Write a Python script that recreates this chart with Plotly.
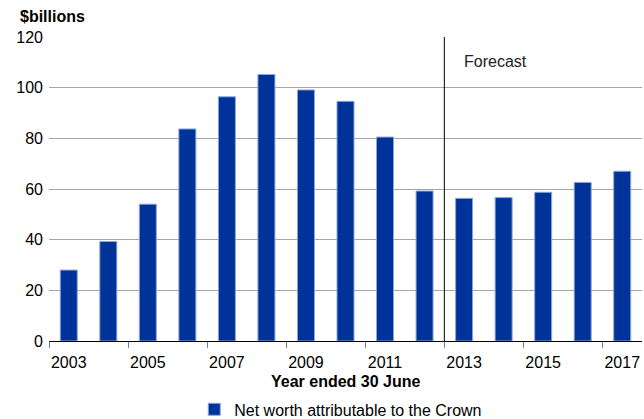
import plotly.graph_objects as go

# Net worth attributable to the Crown, $billions, year ended 30 June
years = [2003, 2004, 2005, 2006, 2007, 2008, 2009, 2010,
         2011, 2012, 2013, 2014, 2015, 2016, 2017]
net_worth = [28.0, 39.3, 54.0, 83.7, 96.4, 105.2, 99.1, 94.6,
             80.5, 59.2, 56.3, 56.6, 58.7, 62.6, 67.0]
tick_years = years[::2]
tick_labels = [str(y) for y in tick_years]
forecast_start = 2013
y_ticks = [0, 20, 40, 60, 80, 100, 120]

FONT = "Liberation Sans, Arial, sans-serif"
BAR = "#003399"

fig = go.Figure()
fig.add_trace(go.Bar(
    x=years, y=net_worth, width=0.43,
    name="Net worth attributable to the Crown",
    marker=dict(color=BAR, line=dict(color="#8da6d8", width=1)),
))

boundaries = [y - 0.5 for y in tick_years]

fig.update_layout(
    width=644, height=419,
    margin=dict(l=49, r=2, t=37, b=78, autoexpand=False),
    paper_bgcolor="white", plot_bgcolor="white",
    font=dict(family=FONT, size=16, color="#000000"),
    showlegend=True,
    legend=dict(orientation="h", x=0.492, xanchor="center",
                y=-0.225, yanchor="middle",
                font=dict(size=16), itemwidth=30,
                bgcolor="rgba(0,0,0,0)"),
    bargap=0.5,
    xaxis=dict(
        range=[years[0] - 0.5, years[-1] + 0.5],
        tickmode="array", tickvals=tick_years, ticktext=tick_labels,
        ticks="", showgrid=False, zeroline=False,
        showline=True, linecolor="#000000", linewidth=1,
        tickfont=dict(size=16), ticklabelstandoff=7,
        minor=dict(tickmode="array", tickvals=boundaries, ticks="outside",
                   ticklen=6, tickcolor="#808080", showgrid=False),
    ),
    yaxis=dict(
        range=[0, 120], tickmode="array", tickvals=y_ticks,
        showgrid=True, gridcolor="#a6a6a6", gridwidth=1,
        zeroline=False, showline=False, ticks="",
        tickfont=dict(size=16), ticklabelstandoff=5,
    ),
)

# Forecast divider
fig.add_shape(type="line", xref="x", yref="paper",
              x0=forecast_start - 0.5, x1=forecast_start - 0.5, y0=0, y1=1,
              line=dict(color="#000000", width=1))
fig.add_annotation(x=forecast_start - 0.5, y=110.5, xref="x", yref="y",
                   text="Forecast", showarrow=False, xanchor="left",
                   yanchor="middle", xshift=18,
                   font=dict(size=16, color="#222222"))

# Axis titles
fig.add_annotation(x=0, y=1, xref="paper", yref="paper",
                   text="<b>$billions</b>", showarrow=False,
                   xanchor="left", yanchor="middle", xshift=-31, yshift=21,
                   font=dict(size=16))
fig.add_annotation(x=0.5, y=0, xref="paper", yref="paper",
                   text="<b>Year ended 30 June</b>", showarrow=False,
                   xanchor="center", yanchor="middle", yshift=-40,
                   font=dict(size=16))

fig.write_html("out.html")
